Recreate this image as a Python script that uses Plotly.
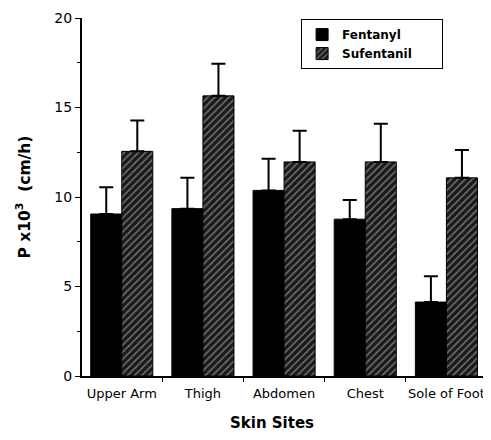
import plotly.graph_objects as go

sites = ["Upper Arm", "Thigh", "Abdomen", "Chest", "Sole of Foot"]
fentanyl = [9.05, 9.35, 10.37, 8.76, 4.13]
fentanyl_err = [1.50, 1.72, 1.76, 1.07, 1.44]
sufentanil = [12.55, 15.65, 11.96, 11.96, 11.07]
sufentanil_err = [1.72, 1.80, 1.74, 2.13, 1.56]

FONT = "DejaVu Sans"
PAD = "\u00a0" * 6

fig = go.Figure()
fig.add_trace(go.Bar(
    x=sites, y=fentanyl, name="Fentanyl",
    marker=dict(color="black", line=dict(color="black", width=1)),
    error_y=dict(type="data", array=fentanyl_err, arrayminus=[0]*5, symmetric=False,
                 color="black", thickness=2, width=7),
))
fig.add_trace(go.Bar(
    x=sites, y=sufentanil, name="Sufentanil" + PAD,
    marker=dict(color="#1a1a1a", line=dict(color="black", width=1),
                pattern=dict(shape="/", bgcolor="#1a1a1a", fgcolor="#c8c8c8",
                             size=5, solidity=0.3)),
    error_y=dict(type="data", array=sufentanil_err, arrayminus=[0]*5, symmetric=False,
                 color="black", thickness=2, width=7),
))

fig.update_layout(
    width=483, height=432,
    margin=dict(l=74, r=4, t=10, b=64, autoexpand=False),
    paper_bgcolor="white", plot_bgcolor="white",
    barmode="group", bargap=0.235, bargroupgap=0,
    font=dict(family=FONT, size=13, color="black"),
    showlegend=True,
    legend=dict(x=0.541, y=0.997, xanchor="left", yanchor="top",
                bordercolor="black", borderwidth=1, bgcolor="white",
                font=dict(family=FONT, size=12, color="black", weight="bold"),
                tracegroupgap=0, itemclick=False),
    xaxis=dict(type="category", range=[-0.49, 4.5], showline=True, linecolor="black",
               linewidth=2, ticks="outside", tickson="boundaries", ticklen=4,
               tickcolor="black", tickwidth=1, showgrid=False, zeroline=False,
               tickangle=0, automargin=False,
               ticklabelstandoff=4, tickfont=dict(family=FONT, size=13)),
    yaxis=dict(range=[0, 20], showline=True, linecolor="black", linewidth=2,
               ticks="outside", ticklen=5, tickcolor="black", tickwidth=1,
               dtick=5, tick0=0, showgrid=False, zeroline=False, automargin=False,
               minor=dict(dtick=2.5, ticks="outside", ticklen=3, tickcolor="black"),
               tickfont=dict(family=FONT, size=14)),
    annotations=[
        dict(text="<b>Skin Sites</b>", xref="paper", yref="paper",
             x=(271.5 - 82) / 405, y=(376 - 423) / 358, xanchor="center", yanchor="middle",
             showarrow=False, font=dict(family=FONT, size=15, color="black")),
        dict(text="<b>P x10<sup>3</sup>  (cm/h)</b>", xref="paper", yref="paper",
             x=(24 - 82) / 405, y=(376 - 197.5) / 358, xanchor="center", yanchor="middle",
             textangle=-90, showarrow=False, font=dict(family=FONT, size=15.5, color="black")),
    ],
)

fig.write_html("out.html")
